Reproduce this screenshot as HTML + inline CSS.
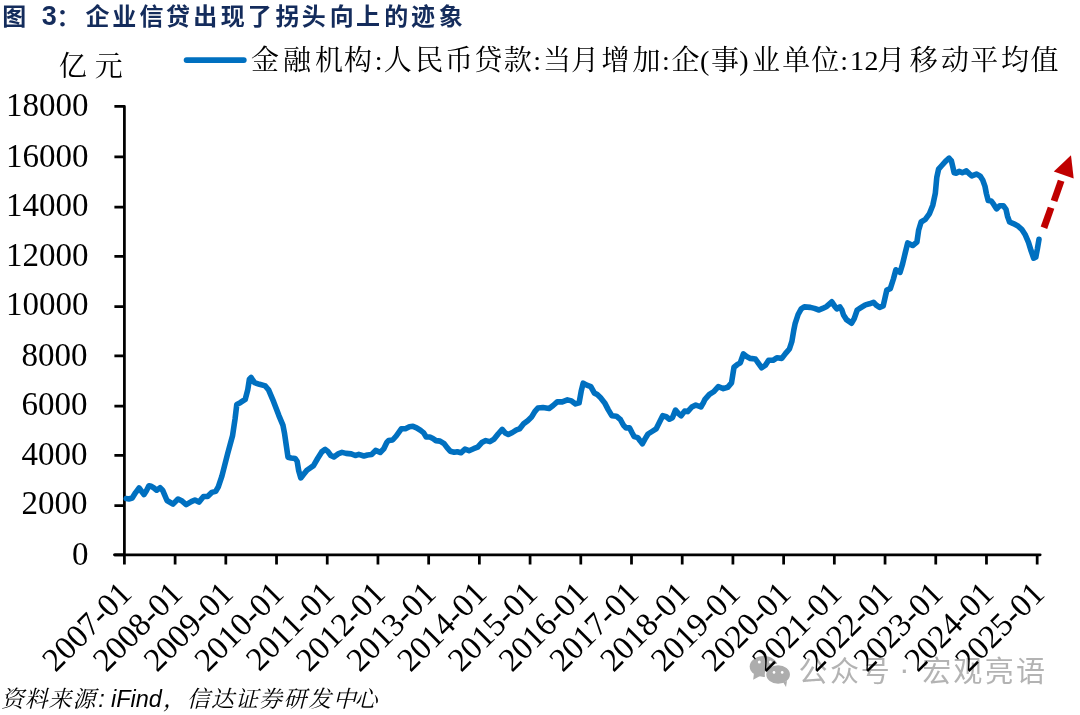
<!DOCTYPE html>
<html><head><meta charset="utf-8"><title>图 3：企业信贷出现了拐头向上的迹象</title>
<style>
html,body{margin:0;padding:0;background:#fff;}
body{width:1080px;height:715px;overflow:hidden;position:relative;}
svg{position:absolute;left:0;top:0;}
.ax{font-family:"Liberation Serif",serif;font-size:33px;fill:#000;}
.ttl{font-family:"Liberation Sans","Noto Sans CJK SC",sans-serif;font-weight:700;font-size:24px;fill:#142c5c;}
.ttl3{font-family:"Liberation Sans",sans-serif;font-weight:700;font-size:27px;fill:#142c5c;}
.lg{font-family:"Liberation Serif","Noto Serif CJK SC",serif;font-size:28px;fill:#000;}
.yy{font-size:28px;}
.lgl{font-family:"Liberation Serif",serif;font-size:28px;fill:#000;}
.src{font-family:"Liberation Serif","Noto Serif CJK SC",serif;font-size:23px;font-style:italic;fill:#000;}
.srcl{font-family:"Liberation Sans",sans-serif;font-size:23.5px;font-style:italic;fill:#000;}
.wm{font-family:"Liberation Sans","Noto Sans CJK SC",sans-serif;font-size:29px;fill:#b3b3b3;}
.wmd{font-family:"Liberation Sans",sans-serif;font-size:32px;}
</style></head>
<body>
<svg width="1080" height="715" viewBox="0 0 1080 715">
<rect width="1080" height="715" fill="#fff"/>
<text class="ttl" y="25.3" text-anchor="middle"><tspan x="14.2 31.7">图 </tspan><tspan class="ttl3" x="49.2">3</tspan><tspan x="68.5" y="25.8">：</tspan><tspan x="97.5 124.2 151.4 178 205.2 232.8 259.7 287.5 313.8 341.7 368.1 396.2 422.9 450.7" y="25.3">企业信贷出现了拐头向上的迹象</tspan></text>
<text class="lg yy" x="72.8 108.8" y="75.5" text-anchor="middle">亿元</text>
<path d="M186.6 60.1H243.8" stroke="#0070c0" stroke-width="5.8" stroke-linecap="round" fill="none"/>
<text class="lg" x="264.9 297 329 358 378.6 397.7 429.2 458.9 488.3 517.8 537.2 557 585 615.5 646.4 665.8 685.6 704.7 725 743.9 766 796.2 825.3 844.1 857 871.5 891.3 923.7 955.1 984.3 1014.9 1044.6" y="69.8" text-anchor="middle">金融机构:人民币贷款:当月增加:企(事)业单位:12月移动平均值</text>
<g>
<ellipse cx="763.7" cy="666.5" rx="14" ry="10.4" fill="#adadad"/>
<path d="M754 672.5L753.2 679.8L761 675.5Z" fill="#adadad"/>
<ellipse cx="778.1" cy="674.6" rx="12.6" ry="10" fill="#adadad" stroke="#fff" stroke-width="1.5"/>
<path d="M783 682 L786 687 L787 681Z" fill="#adadad"/>
<circle cx="759.3" cy="662" r="1.5" fill="#fff"/><circle cx="770.4" cy="662" r="1.5" fill="#fff"/>
<circle cx="774" cy="672.4" r="1.3" fill="#fff"/><circle cx="782.2" cy="672.4" r="1.3" fill="#fff"/>
<text class="wm" y="682" text-anchor="middle"><tspan x="813 844.5 875.2 890">公众号 </tspan><tspan class="wmd" x="904.4" y="679.5">·</tspan><tspan x="920 936.7 967.8 999.2 1030.4" y="682"> 宏观亮语</tspan></text>
</g>
<path d="M114.4 554.8H124.4M114.4 505.6H124.4M114.4 455.3H124.4M114.4 406H124.4M114.4 355.9H124.4M114.4 306.5H124.4M114.4 256.3H124.4M114.4 207H124.4M114.4 156.8H124.4M114.4 106.4H124.4M124.4 554.8V564.4M175.11 554.8V564.4M225.82 554.8V564.4M276.53 554.8V564.4M327.24 554.8V564.4M377.95 554.8V564.4M428.66 554.8V564.4M479.37 554.8V564.4M530.08 554.8V564.4M580.79 554.8V564.4M631.5 554.8V564.4M682.21 554.8V564.4M732.92 554.8V564.4M783.63 554.8V564.4M834.34 554.8V564.4M885.05 554.8V564.4M935.76 554.8V564.4M986.47 554.8V564.4M1037.18 554.8V564.4" stroke="#000" stroke-width="2.75" fill="none"/>
<path d="M124.4 106.4V554.8M114.4 554.8H1040.2" stroke="#000" stroke-width="2.75" fill="none" stroke-linecap="round"/>
<g class="ax"><text x="88.6" y="564.65" text-anchor="end">0</text><text x="87.5" y="514.15" text-anchor="end">2000</text><text x="87.5" y="464.95" text-anchor="end">4000</text><text x="87.5" y="414.75" text-anchor="end">6000</text><text x="87.5" y="365.85" text-anchor="end">8000</text><text x="88.6" y="315.25" text-anchor="end">10000</text><text x="88.6" y="266.15" text-anchor="end">12000</text><text x="88.6" y="215.85" text-anchor="end">14000</text><text x="88.4" y="166.75" text-anchor="end">16000</text><text x="88.4" y="116.25" text-anchor="end">18000</text></g>
<g class="ax"><text x="133.4" y="595.3" text-anchor="end" transform="rotate(-45 133.4 595.3)">2007-01</text><text x="184.11" y="595.3" text-anchor="end" transform="rotate(-45 184.11 595.3)">2008-01</text><text x="234.82" y="595.3" text-anchor="end" transform="rotate(-45 234.82 595.3)">2009-01</text><text x="285.53" y="595.3" text-anchor="end" transform="rotate(-45 285.53 595.3)">2010-01</text><text x="336.24" y="595.3" text-anchor="end" transform="rotate(-45 336.24 595.3)">2011-01</text><text x="386.95" y="595.3" text-anchor="end" transform="rotate(-45 386.95 595.3)">2012-01</text><text x="437.66" y="595.3" text-anchor="end" transform="rotate(-45 437.66 595.3)">2013-01</text><text x="488.37" y="595.3" text-anchor="end" transform="rotate(-45 488.37 595.3)">2014-01</text><text x="539.08" y="595.3" text-anchor="end" transform="rotate(-45 539.08 595.3)">2015-01</text><text x="589.79" y="595.3" text-anchor="end" transform="rotate(-45 589.79 595.3)">2016-01</text><text x="640.5" y="595.3" text-anchor="end" transform="rotate(-45 640.5 595.3)">2017-01</text><text x="691.21" y="595.3" text-anchor="end" transform="rotate(-45 691.21 595.3)">2018-01</text><text x="741.92" y="595.3" text-anchor="end" transform="rotate(-45 741.92 595.3)">2019-01</text><text x="792.63" y="595.3" text-anchor="end" transform="rotate(-45 792.63 595.3)">2020-01</text><text x="843.34" y="595.3" text-anchor="end" transform="rotate(-45 843.34 595.3)">2021-01</text><text x="894.05" y="595.3" text-anchor="end" transform="rotate(-45 894.05 595.3)">2022-01</text><text x="944.76" y="595.3" text-anchor="end" transform="rotate(-45 944.76 595.3)">2023-01</text><text x="995.47" y="595.3" text-anchor="end" transform="rotate(-45 995.47 595.3)">2024-01</text><text x="1046.18" y="595.3" text-anchor="end" transform="rotate(-45 1046.18 595.3)">2025-01</text></g>
<path d="M126.2 498.6 L128.8 499 L132.2 498 L135.6 492.6 L139.1 488 L141.5 491.2 L144 494.6 L146.4 490.7 L148.9 485.8 L151.3 486.3 L154.2 488.2 L156.7 490.2 L160.1 487.7 L162.6 490.2 L164.5 494.6 L167 500.5 L173 504.1 L178 499 L182.1 501.1 L186.2 504.6 L191.3 501.6 L194.9 500 L198.9 502.1 L203.5 496.5 L207.6 496.5 L211.7 492.4 L215.7 491.4 L218.3 486.8 L221.9 476.1 L227.6 453.9 L232.6 435.4 L235.1 418.7 L236.8 404.4 L240.2 402.7 L245.2 399.4 L247.7 390.1 L249.4 379.2 L251.1 377.5 L254.4 382.6 L259.5 384.3 L265.3 385.9 L268.7 390.1 L273.7 401.9 L278.8 415.3 L283 425.4 L284.6 433.8 L286.3 445.5 L288 457.2 L291.1 458 L295.2 458.5 L297.2 461.6 L298.7 470.7 L300.8 477.9 L303.3 474.8 L306.9 470.2 L310.5 467.7 L313.5 465.6 L317.6 458.5 L321.7 451.9 L325.2 449.4 L327.8 451.4 L330.8 455.5 L333.9 457 L338 453.9 L342 452.4 L346.1 453.4 L351.2 453.9 L355.3 455.5 L358.8 454.4 L363.9 456 L367.5 455 L371.6 454.4 L375.6 450.4 L380.2 452.4 L383.8 448.8 L386.9 442.2 L388.6 440.6 L392.6 440 L396.2 436 L401.3 428.8 L405.4 428.8 L409.4 426.8 L413 426.3 L416.6 427.8 L420.6 430.4 L423.7 432.9 L426.2 437 L429.8 437 L432.9 438.5 L435.9 440.6 L440 441.1 L444.1 443.6 L447.1 447.7 L450.2 451.2 L454.3 452.3 L457.3 451.8 L460.9 452.8 L465 449.2 L469 450.7 L473.6 448.7 L477.7 447.2 L481.8 442.6 L485.8 440.6 L489.9 441.6 L494.1 439.1 L498.1 434 L502.2 429.4 L505.3 433 L508.3 434.5 L512.4 432.5 L516.5 429.9 L519.5 428.9 L523.6 423.8 L527.7 420.7 L531.8 416.7 L534.8 411.6 L537.9 408 L543 407.5 L549.1 408.5 L553.1 405.5 L557.2 401.9 L562.3 401.9 L567.4 399.9 L571.5 400.9 L575.6 403.9 L579.1 402.9 L581.2 391.2 L583.2 383.1 L586.8 385.1 L590.8 386.6 L594.4 393.2 L597 394.3 L600.6 397.8 L604.7 402.9 L608.2 409.6 L611.8 415.7 L616.4 416.2 L620.5 419.7 L623.5 425.3 L626.1 427.9 L629.6 427.9 L632.2 433 L634.2 436.6 L637.8 437.6 L640.3 441.1 L642.4 443.7 L644.9 439.1 L648 434 L652 431.5 L656.1 428.9 L659.2 422.8 L662.7 415.7 L666.3 416.7 L669.4 419.2 L672.4 417.7 L675.5 410.1 L678.5 413.6 L681.1 415.7 L684.6 411.1 L687.7 411.6 L691.8 407 L695.8 405 L700.9 407 L703 403.4 L705 399.3 L709.4 394.3 L713.8 391.7 L718.3 386.7 L723.3 388.6 L727.7 387.3 L731.5 382.9 L732.7 375.4 L734 367.2 L737.1 364.7 L740.3 362.8 L743.4 354 L746.6 356.5 L750.3 358.4 L755.4 359 L758.5 363.4 L761.7 367.8 L765.4 365.3 L768.6 360.3 L773 360.3 L776.8 357.8 L781.8 358.4 L785.6 353.4 L789.4 349 L791.9 341.4 L793.8 330.1 L795.1 323.7 L798.1 314.5 L801.2 308.9 L804.3 306.9 L810.4 307.4 L814.4 308.4 L819 310 L822.6 308.4 L826.7 306.4 L831.8 301.8 L834.8 306.4 L836.9 308.9 L839.9 306.9 L841.9 310 L843.5 315 L846.5 319.6 L851.6 323.2 L854.2 318.6 L857.2 310 L861.3 307.4 L865.4 304.9 L869.4 303.8 L873.5 302.3 L876.6 305.4 L879.6 307.4 L883.2 305.9 L885.2 297.2 L886.8 290.1 L890.3 288.6 L893.4 279 L895.9 269.8 L900.1 272.3 L902.6 263.9 L905.2 253 L907.7 242.9 L912.7 245.5 L916.9 242.1 L918.6 230.3 L921.1 222 L925.3 219.4 L929.5 213.6 L932.8 205.2 L935.3 193.4 L936.8 177.3 L938.6 169.1 L941.8 165.5 L945.5 161.4 L949.1 158.2 L951.4 160.9 L952.7 166.4 L954.1 172.7 L956.4 173.2 L959.1 171.4 L962.3 172.7 L966.4 170.9 L969.1 173.6 L971.8 175.9 L976.4 174.1 L980 175.9 L982.7 180 L985 186.4 L986.4 193.6 L988.2 200.5 L991.3 201 L993.9 204.7 L996.5 208.9 L999.7 205.7 L1003.3 205.7 L1006 209.4 L1007.5 216.2 L1009.6 222 L1013.3 223.6 L1017.5 225.7 L1021.7 229.3 L1025.4 235.1 L1028.5 242.4 L1031.1 250.8 L1033.7 258.2 L1035.8 257.1 L1037.4 248.8 L1039 239.3" stroke="#0070c0" stroke-width="5.6" stroke-linejoin="round" stroke-linecap="round" fill="none"/>
<g fill="#c00000">
<path d="M1040.7 226.6L1047.2 229L1054.3 208.8L1047.8 206.8Z"/>
<path d="M1050.8 199.9L1057.3 202L1064.4 181.8L1057.9 179.7Z"/>
<path d="M1071 155.3L1053.8 171.4L1073.7 178.5Z"/>
</g>
<text class="src" y="706.5" text-anchor="middle"><tspan x="12.5 36.3 60.1 84">资料来源</tspan><tspan class="srcl" x="101.5 106">: </tspan><tspan class="srcl" x="111" text-anchor="start">iFind</tspan><tspan x="174.6">，</tspan><tspan x="198.2 222.5 246.4 270.5 294.9 319.7 344.5 366">信达证券研发中心</tspan></text>
</svg>
</body></html>
